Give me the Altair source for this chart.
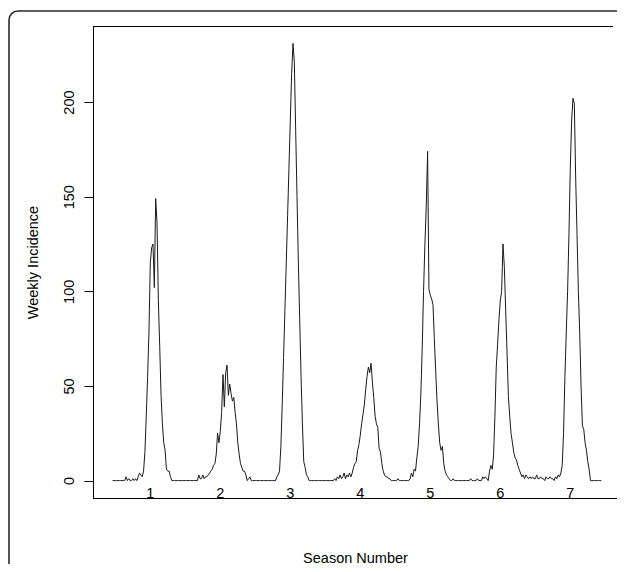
import altair as alt
import pandas as pd

# Weekly incidence, one list of 52 weeks per season
season_1 = [0, 0, 0, 0, 0, 0, 0, 0, 0, 0,
            2, 0, 1, 0, 0, 1, 0, 1, 0, 2,
            4, 3, 2, 5, 15, 34, 55, 78, 115, 123,
            125, 102, 149, 136, 95, 71, 45, 30, 20, 16,
            6, 5, 5, 2, 0, 0, 0, 0, 0, 0,
            0, 0]
season_2 = [0, 0, 0, 0, 0, 0, 0, 0, 0, 0,
            0, 0, 3, 1, 1, 3, 1, 2, 2, 3,
            4, 5, 6, 8, 9, 14, 25, 20, 26, 36,
            56, 39, 57, 61, 45, 51, 46, 42, 44, 36,
            30, 20, 14, 9, 7, 5, 5, 3, 0, 1,
            2, 0]
season_3 = [0, 0, 0, 0, 0, 0, 0, 0, 0, 0,
            0, 0, 0, 0, 0, 0, 0, 0, 2, 3,
            5, 18, 40, 65, 90, 115, 140, 165, 190, 215,
            231, 221, 185, 150, 115, 85, 55, 30, 10, 7,
            3, 2, 0, 0, 0, 0, 0, 0, 0, 0,
            0, 0]
season_4 = [0, 0, 0, 0, 0, 0, 0, 0, 0, 1,
            0, 2, 1, 3, 1, 2, 4, 1, 3, 2,
            4, 2, 4, 7, 9, 10, 16, 19, 24, 30,
            35, 40, 48, 55, 60, 57, 62, 52, 44, 34,
            30, 28, 17, 15, 9, 5, 3, 2, 2, 1,
            1, 0]
season_5 = [0, 0, 0, 0, 1, 0, 0, 0, 0, 0,
            0, 0, 0, 1, 4, 2, 6, 5, 12, 18,
            30, 46, 70, 100, 125, 145, 174, 101, 98, 96,
            93, 75, 58, 42, 30, 20, 16, 18, 9, 5,
            3, 2, 1, 0, 0, 1, 0, 0, 0, 0,
            0, 0]
season_6 = [0, 0, 0, 0, 0, 0, 1, 0, 0, 0,
            0, 1, 0, 0, 0, 2, 1, 2, 1, 0,
            5, 8, 6, 13, 34, 60, 72, 85, 95, 100,
            125, 113, 90, 68, 45, 34, 25, 20, 15, 12,
            11, 8, 6, 4, 2, 3, 1, 3, 2, 1,
            2, 1]
season_7 = [2, 1, 1, 3, 1, 1, 2, 1, 1, 0,
            2, 1, 1, 2, 1, 1, 0, 2, 1, 3,
            2, 4, 8, 25, 55, 78, 100, 130, 165, 190,
            202, 199, 160, 130, 100, 78, 50, 29, 27, 20,
            16, 10, 6, 0, 0, 0, 0, 0, 0, 0,
            0, 0]

x_ticks = [1, 2, 3, 4, 5, 6, 7]
y_ticks = [0, 50, 100, 150, 200]

incidence = season_1 + season_2 + season_3 + season_4 + season_5 + season_6 + season_7
START = 0.47
WEEKS_PER_SEASON = 52
season_pos = [START + w / WEEKS_PER_SEASON for w in range(len(incidence))]

df = pd.DataFrame({"season": season_pos, "incidence": incidence})

W, H = 524, 472
PX_PER_SEASON = 70
X0 = 0.19
FONT = "Liberation Sans, Arial, Helvetica, sans-serif"

line = alt.Chart(df).mark_line(color="#1a1a1a", strokeWidth=1).encode(
    x=alt.X(
        "season:Q",
        scale=alt.Scale(domain=[X0, X0 + W / PX_PER_SEASON], nice=False, zero=False),
        axis=alt.Axis(
            values=x_ticks, format="d", ticks=False, tickSize=0, domain=False, grid=False,
            labelPadding=-1, labelBaseline="alphabetic", labelFontSize=14.5, labelFont=FONT,
            labelColor="#000", labelFlush=False,
            title="Season Number", titleFont=FONT, titleFontSize=14.5, titleFontWeight="normal",
            titleY=64, titleBaseline="alphabetic", titleColor="#000",
        ),
    ),
    y=alt.Y(
        "incidence:Q",
        scale=alt.Scale(domain=[-9.2, 240.2], nice=False, zero=False),
        axis=alt.Axis(
            values=y_ticks, format="d", tickSize=9, tickColor="#000", domainColor="#000",
            grid=False, labelAngle=270, labelAlign="center", labelBaseline="alphabetic",
            labelPadding=11, labelFontSize=14.5, labelFont=FONT, labelColor="#000",
            title="Weekly Incidence", titleFont=FONT, titleFontSize=14.5, titleFontWeight="normal",
            titleX=-56, titleY=H / 2, titleAngle=270, titleAlign="center",
            titleBaseline="alphabetic", titleColor="#000",
        ),
    ),
)

deco = alt.Data(values=[{"k": 0}])
border = alt.Chart(deco).mark_rect(
    filled=False, stroke="#2a2a2a", strokeWidth=1.6, cornerRadius=9
).encode(x=alt.value(-84), x2=alt.value(W + 40), y=alt.value(-15), y2=alt.value(H + 120))
top_rule = alt.Chart(deco).mark_rule(color="#000", strokeWidth=1).encode(
    x=alt.value(0), x2=alt.value(W - 4), y=alt.value(0.5))
bottom_rule = alt.Chart(deco).mark_rule(color="#000", strokeWidth=1).encode(
    x=alt.value(0), x2=alt.value(W + 10), y=alt.value(H + 0.5))

chart = alt.layer(border, top_rule, bottom_rule, line).properties(
    width=W, height=H,
    padding={"left": 85, "top": 18, "right": 0, "bottom": 66},
    autosize=alt.AutoSizeParams(type="none"),
    background="white",
).configure_view(stroke=None)

chart.save("out.html", embed_options={"renderer": "svg", "actions": False})
